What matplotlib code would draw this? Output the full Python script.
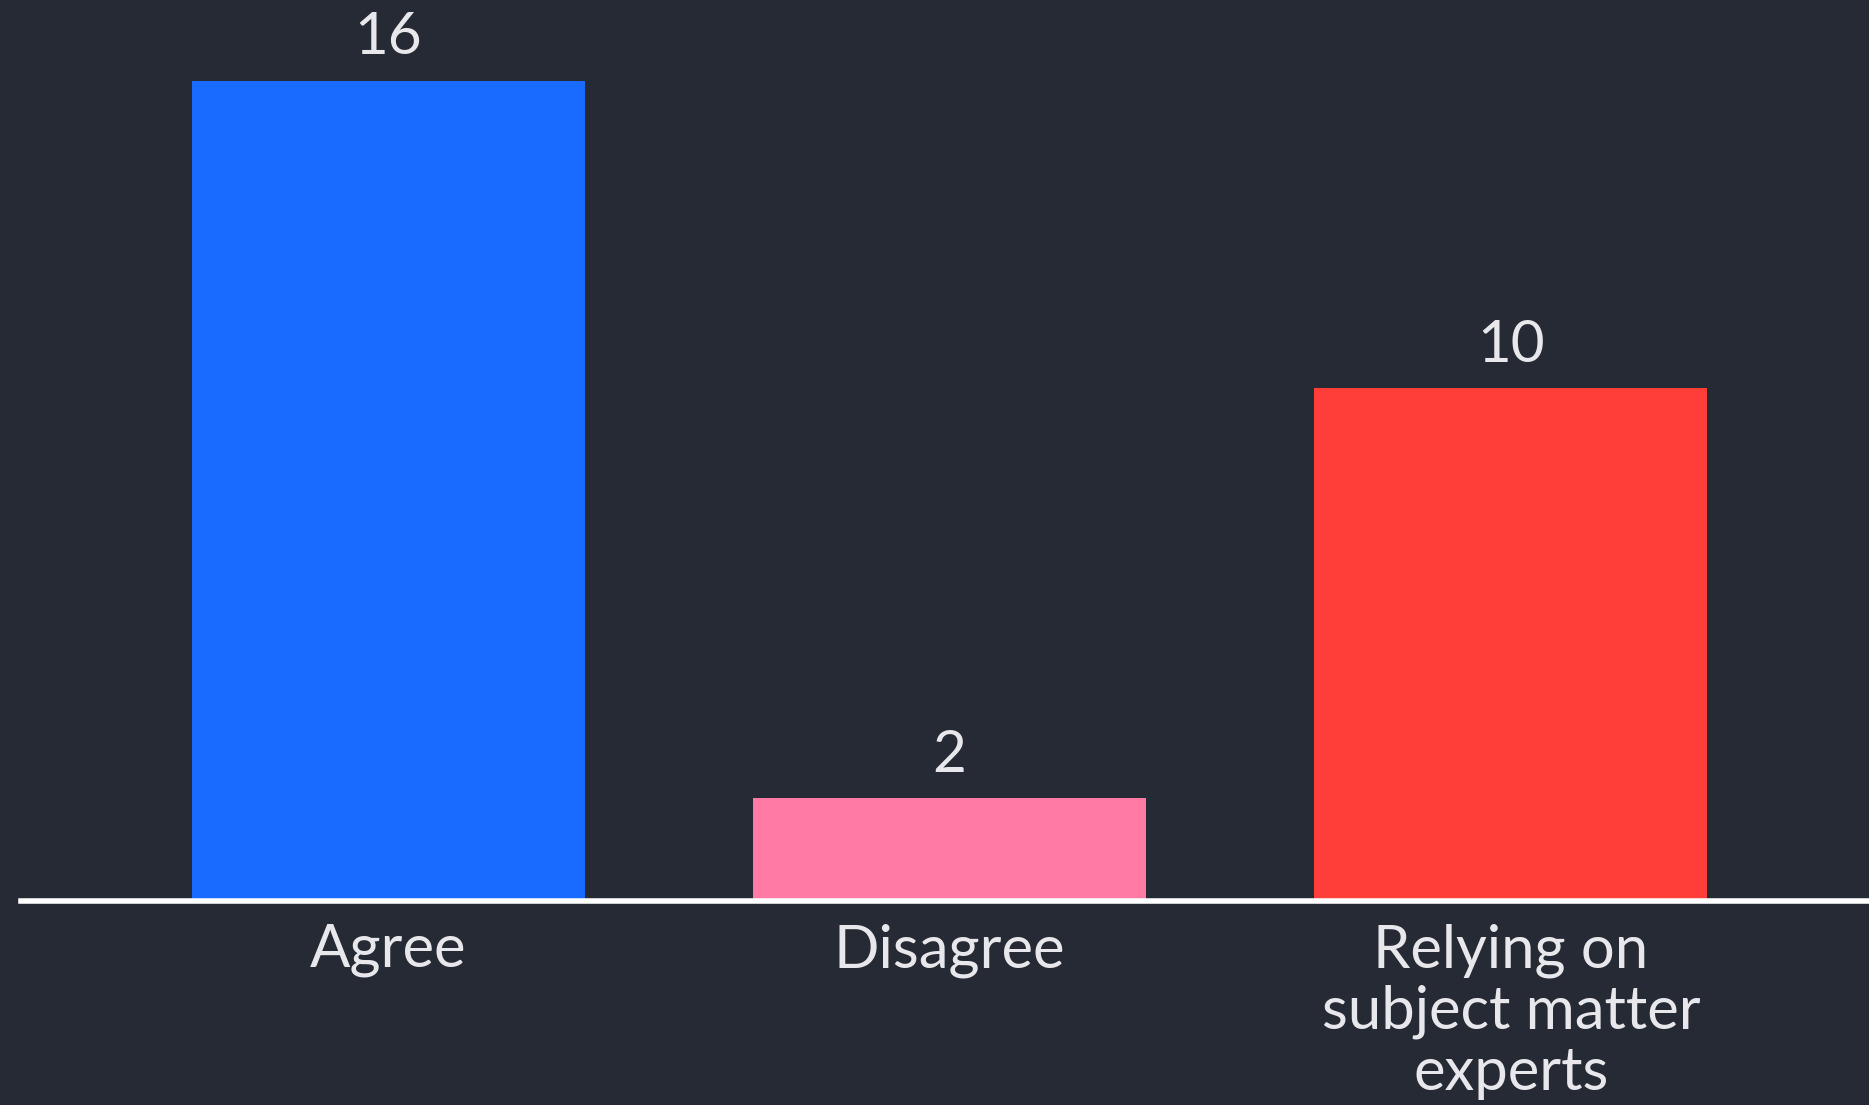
import matplotlib
matplotlib.use("Agg")
import matplotlib.pyplot as plt

categories = ["Agree", "Disagree", "Relying on\nsubject matter\nexperts"]
values = [16, 2, 10]
colors = ["#196AFF", "#FF7BA6", "#FF3E3A"]

bg = "#252A34"
fg = "#E8E8EC"

plt.rcParams["font.family"] = ["Lato", "DejaVu Sans"]

fig = plt.figure(figsize=(18.69, 11.05), dpi=100, facecolor=bg)
ax = fig.add_axes([21 / 1869, 204 / 1105, 1 - 21 / 1869, 901 / 1105])
ax.set_facecolor(bg)

x = list(range(len(categories)))
bars = ax.bar(x, values, width=0.70, color=colors, zorder=2)

# value labels above each bar
for b, v in zip(bars, values):
    ax.annotate(str(v), (b.get_x() + b.get_width() / 2, v),
                xytext=(0, 12), textcoords="offset points",
                ha="center", va="bottom", fontsize=42, color=fg)

ax.set_xlim(-0.654, 2.638)
ax.set_ylim(0, 17.58)

ax.set_xticks(x)
ax.set_xticklabels(categories, fontsize=43, color=fg, linespacing=1.16)
ax.tick_params(axis="x", length=0, pad=16)
ax.set_yticks([])

for s in ["top", "right", "left"]:
    ax.spines[s].set_visible(False)
ax.spines["bottom"].set_color("white")
ax.spines["bottom"].set_linewidth(4)
ax.spines["bottom"].set_zorder(3)

fig.savefig("out.png", dpi=100, facecolor=bg)
